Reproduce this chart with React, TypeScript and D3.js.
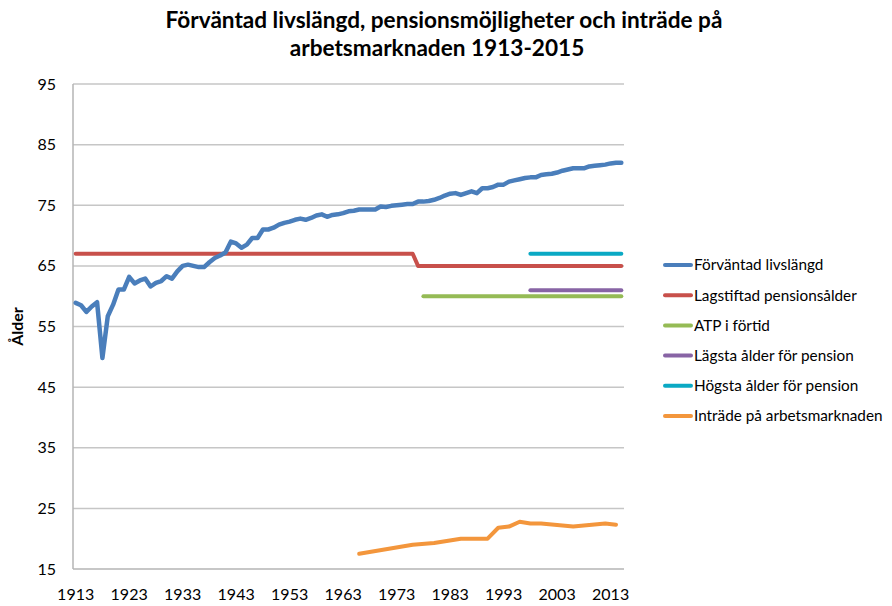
import React from 'react';
import * as d3 from 'd3';

// Years on the category axis
const years = d3.range(1913, 2016);
const xTickYears = [1913, 1923, 1933, 1943, 1953, 1963, 1973, 1983, 1993, 2003, 2013];
const yTicks = [15, 25, 35, 45, 55, 65, 75, 85, 95];

// Förväntad livslängd, one value per year 1913-2015
const lifeExpectancy = [
  58.9, 58.5, 57.4, 58.3, 59.0, 49.8, 56.7, 58.6, 61.1, 61.1,
  63.2, 62.1, 62.6, 62.9, 61.6, 62.2, 62.5, 63.3, 62.9, 64.1,
  65.0, 65.2, 65.0, 64.8, 64.8, 65.6, 66.3, 66.7, 67.2, 69.0,
  68.7, 68.0, 68.5, 69.6, 69.6, 71.0, 71.0, 71.3, 71.8, 72.1,
  72.3, 72.6, 72.8, 72.6, 72.9, 73.3, 73.5, 73.1, 73.4, 73.5,
  73.7, 74.0, 74.1, 74.3, 74.3, 74.3, 74.3, 74.8, 74.7, 74.9,
  75.0, 75.1, 75.2, 75.2, 75.6, 75.6, 75.7, 75.9, 76.2, 76.6,
  76.9, 77.0, 76.7, 77.0, 77.3, 77.0, 77.8, 77.8, 78.0, 78.4,
  78.4, 78.9, 79.1, 79.3, 79.5, 79.6, 79.6, 80.0, 80.1, 80.2,
  80.4, 80.7, 80.9, 81.1, 81.1, 81.1, 81.4, 81.5, 81.6, 81.7,
  81.9, 82.0, 82.0,
];

// Lagstiftad pensionsålder
const legalAgeYears = [1913, 1976, 1977, 2015];
const legalAgeValues = [67, 67, 65, 65];

// ATP i förtid
const earlyAtpYears = [1978, 2015];
const earlyAtpValues = [60, 60];

// Lägsta ålder för pension
const minAgeYears = [1998, 2015];
const minAgeValues = [61, 61];

// Högsta ålder för pension
const maxAgeYears = [1998, 2015];
const maxAgeValues = [67, 67];

// Inträde på arbetsmarknaden
const entryYears = [1966, 1976, 1980, 1985, 1990, 1992, 1994, 1996, 1998, 2000, 2006, 2012, 2014];
const entryValues = [17.5, 19.0, 19.3, 20.0, 20.0, 21.8, 22.0, 22.8, 22.5, 22.5, 22.0, 22.5, 22.3];

const seriesNames = [
  'Förväntad livslängd',
  'Lagstiftad pensionsålder',
  'ATP i förtid',
  'Lägsta ålder för pension',
  'Högsta ålder för pension',
  'Inträde på arbetsmarknaden',
];
const colors = ['#4a7ebb', '#c8504b', '#95bb55', '#8864a5', '#0ba9c4', '#f3963c'];

const W = 892;
const H = 606;
const plot = { left: 73, right: 624, top: 84, bottom: 569 };
const font = 'Lato, "Open Sans", sans-serif';

const App: React.FC = () => {
  const x = d3.scalePoint<number>()
    .domain(years)
    .range([plot.left, plot.right])
    .padding(0.5);
  const y = d3.scaleLinear().domain([15, 95]).range([plot.bottom, plot.top]);

  const line = d3.line<[number, number]>()
    .x(d => x(d[0])!)
    .y(d => y(d[1]));

  const zip = (ys: number[], vs: number[]) => ys.map((yr, i) => [yr, vs[i]] as [number, number]);

  const series: [number, number][][] = [
    zip(years, lifeExpectancy),
    zip(legalAgeYears, legalAgeValues),
    zip(earlyAtpYears, earlyAtpValues),
    zip(minAgeYears, minAgeValues),
    zip(maxAgeYears, maxAgeValues),
    zip(entryYears, entryValues),
  ];
  // drawing order: later series drawn on top
  const drawOrder = [2, 3, 1, 4, 5, 0];

  return (
    <svg width={W} height={H} style={{ position: 'absolute', left: 0, top: 0, background: '#fff' }}
      fontFamily={font}>
      {/* Title */}
      <text x={444} y={28} textAnchor="middle" fontSize={22.6} fontWeight="bold" fill="#000">
        Förväntad livslängd, pensionsmöjligheter och inträde på
      </text>
      <text x={437} y={56} textAnchor="middle" fontSize={22.6} fontWeight="bold" fill="#000">
        arbetsmarknaden 1913-2015
      </text>

      {/* Gridlines */}
      {yTicks.slice(1).map(t => (
        <line key={t} x1={plot.left} x2={plot.right} y1={y(t)} y2={y(t)} stroke="#c6c6c6" strokeWidth={1.5} />
      ))}
      {/* Axes */}
      <line x1={plot.left} x2={plot.left} y1={plot.top} y2={plot.bottom} stroke="#b4b4b4" strokeWidth={1.5} />
      <line x1={plot.left} x2={plot.right} y1={plot.bottom} y2={plot.bottom} stroke="#b4b4b4" strokeWidth={1.5} />

      {/* Y tick labels */}
      {yTicks.map(t => (
        <text key={t} x={56} y={y(t)} dy="0.35em" textAnchor="end" fontSize={16} fill="#000">{t}</text>
      ))}
      <text transform={`translate(23,${(plot.top + plot.bottom) / 2}) rotate(-90)`} textAnchor="middle"
        fontSize={16} fontWeight="bold" fill="#000">Ålder</text>

      {/* X tick labels */}
      {xTickYears.map(t => (
        <text key={t} x={x(t)!} y={600} textAnchor="middle" fontSize={16} fill="#000">{t}</text>
      ))}

      {/* Series */}
      {drawOrder.map(i => (
        <path key={i} d={line(series[i])!} fill="none" stroke={colors[i]}
          strokeWidth={i === 0 ? 4.5 : 4} strokeLinecap="round" strokeLinejoin="round" />
      ))}

      {/* Legend */}
      {seriesNames.map((name, i) => {
        const ly = 265 + i * 30.2;
        return (
          <g key={name}>
            <line x1={665} x2={691} y1={ly} y2={ly} stroke={colors[i]} strokeWidth={4} strokeLinecap="round" />
            <text x={694} y={ly} dy="0.35em" fontSize={15.3} fill="#000">{name}</text>
          </g>
        );
      })}
    </svg>
  );
};

export default App;
